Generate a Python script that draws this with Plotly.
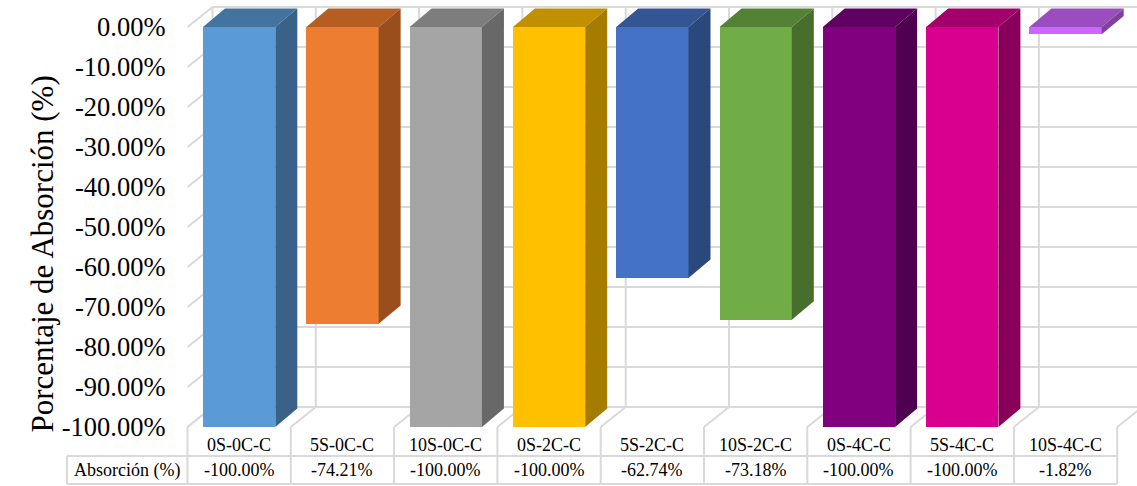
import plotly.graph_objects as go

# ---- data ----
categories = ["0S-0C-C", "5S-0C-C", "10S-0C-C", "0S-2C-C", "5S-2C-C",
              "10S-2C-C", "0S-4C-C", "5S-4C-C", "10S-4C-C"]
absorcion = [-100.00, -74.21, -100.00, -100.00, -62.74, -73.18, -100.00, -100.00, -1.82]
tick_values = [0, -10, -20, -30, -40, -50, -60, -70, -80, -90, -100]
tick_labels = [f"{v:.2f}%" for v in tick_values]
row_label = "Absorción (%)"
axis_title = "Porcentaje de Absorción (%)"

# face colours for each column: front, top, side
front_colors = ["#5B9BD5", "#ED7D31", "#A5A5A5", "#FFC000", "#4472C4",
                "#70AD47", "#800080", "#D9008F", "#CC66FF"]
top_colors = ["#43739F", "#B65D22", "#7D7D7D", "#C09000", "#335593",
              "#548235", "#600060", "#A3006B", "#994DBF"]
side_colors = ["#386287", "#994E1C", "#686868", "#A57C00", "#2B487C",
               "#476E2D", "#500050", "#89005A", "#8040A0"]

# ---- geometry (axis units) ----
W, H = 1137, 486
PX_X = 103.3            # pixels per category
PX_Y = 4.0              # pixels per percent
X_LEFT_PX = 187.5       # left edge of the first category
Y_ZERO_PX = 27.0        # pixel row of 0 %
x_min = -0.5 - X_LEFT_PX / PX_X
x_max = -0.5 + (W - X_LEFT_PX) / PX_X
y_max = Y_ZERO_PX / PX_Y
y_min = -(H - Y_ZERO_PX) / PX_Y

BAR_W = 0.70                     # front face width
DEPTH_X, DEPTH_Y = 22 / PX_X, 4.6  # column depth
WALL_X, WALL_Y = 25 / PX_X, 5.0    # wall depth
LABEL_Y = -(445 - Y_ZERO_PX) / PX_Y
VALUE_Y = -(470 - Y_ZERO_PX) / PX_Y
ROW_TOP = -(456 - Y_ZERO_PX) / PX_Y
ROW_BOTTOM = -(484 - Y_ZERO_PX) / PX_Y
TABLE_LEFT = -0.5 - (X_LEFT_PX - 67) / PX_X

n = len(categories)
xs = list(range(n))
bounds = [i - 0.5 for i in range(n + 1)]
floor = tick_values[-1]

fig = go.Figure()

# front faces
fig.add_trace(go.Bar(
    x=xs, y=absorcion, width=BAR_W, marker=dict(color=front_colors, line=dict(width=0)),
    hoverinfo="skip", showlegend=False,
))

# top and side faces
for i, v in enumerate(absorcion):
    xl, xr = i - BAR_W / 2, i + BAR_W / 2
    fig.add_trace(go.Scatter(
        x=[xl, xr, xr + DEPTH_X, xl + DEPTH_X, xl],
        y=[0, 0, DEPTH_Y, DEPTH_Y, 0],
        fill="toself", fillcolor=top_colors[i], mode="lines",
        line=dict(width=0, color=top_colors[i]), hoverinfo="skip", showlegend=False,
    ))
    fig.add_trace(go.Scatter(
        x=[xr, xr + DEPTH_X, xr + DEPTH_X, xr, xr],
        y=[0, DEPTH_Y, v + DEPTH_Y, v, 0],
        fill="toself", fillcolor=side_colors[i], mode="lines",
        line=dict(width=0, color=side_colors[i]), hoverinfo="skip", showlegend=False,
    ))

grid = dict(color="#D9D9D9", width=2)
shapes = []
# back wall
for v in tick_values:
    shapes.append(dict(type="line", x0=bounds[0] + WALL_X, x1=x_max + 1, y0=v + WALL_Y, y1=v + WALL_Y,
                       line=grid, layer="below"))
    shapes.append(dict(type="line", x0=bounds[0], x1=bounds[0] + WALL_X, y0=v, y1=v + WALL_Y,
                       line=grid, layer="below"))
for b in bounds:
    shapes.append(dict(type="line", x0=b + WALL_X, x1=b + WALL_X, y0=WALL_Y, y1=floor + WALL_Y,
                       line=grid, layer="below"))
    # floor
    shapes.append(dict(type="line", x0=b, x1=b + WALL_X, y0=floor, y1=floor + WALL_Y,
                       line=grid, layer="below"))
    # data table columns
    shapes.append(dict(type="line", x0=b, x1=b, y0=floor, y1=ROW_BOTTOM,
                       line=grid, layer="below"))
# data table rows
for yy in (ROW_TOP, ROW_BOTTOM):
    shapes.append(dict(type="line", x0=TABLE_LEFT, x1=bounds[-1], y0=yy, y1=yy,
                       line=grid, layer="below"))
shapes.append(dict(type="line", x0=TABLE_LEFT, x1=TABLE_LEFT, y0=ROW_TOP, y1=ROW_BOTTOM,
                   line=grid, layer="below"))

font_family = "Liberation Serif, Times New Roman, serif"
annotations = []
for i, (c, v) in enumerate(zip(categories, absorcion)):
    annotations.append(dict(x=i, y=LABEL_Y, text=c, showarrow=False,
                            font=dict(family=font_family, size=18, color="#000000")))
    annotations.append(dict(x=i, y=VALUE_Y, text=f"{v:.2f}%", showarrow=False,
                            font=dict(family=font_family, size=18, color="#000000")))
annotations.append(dict(x=(TABLE_LEFT + bounds[0]) / 2, y=VALUE_Y, text=row_label, showarrow=False,
                        font=dict(family=font_family, size=18, color="#000000")))
annotations.append(dict(xref="paper", x=22 / W, yref="y", y=-(254 - Y_ZERO_PX) / PX_Y,
                        text=axis_title, textangle=-90, showarrow=False,
                        font=dict(family=font_family, size=31, color="#000000")))

fig.update_layout(
    width=W, height=H,
    margin=dict(l=0, r=0, t=0, b=0),
    paper_bgcolor="white", plot_bgcolor="white",
    shapes=shapes, annotations=annotations,
    bargap=0,
    xaxis=dict(range=[x_min, x_max], visible=False, fixedrange=True),
    yaxis=dict(
        range=[y_min, y_max], anchor="free", position=X_LEFT_PX / W,
        tickvals=tick_values, ticktext=tick_labels,
        ticks="", showgrid=False, zeroline=False, showline=False,
        ticklabelstandoff=22,
        tickfont=dict(family=font_family, size=26.5, color="#000000"),
        fixedrange=True,
    ),
)

fig.write_html("out.html")
